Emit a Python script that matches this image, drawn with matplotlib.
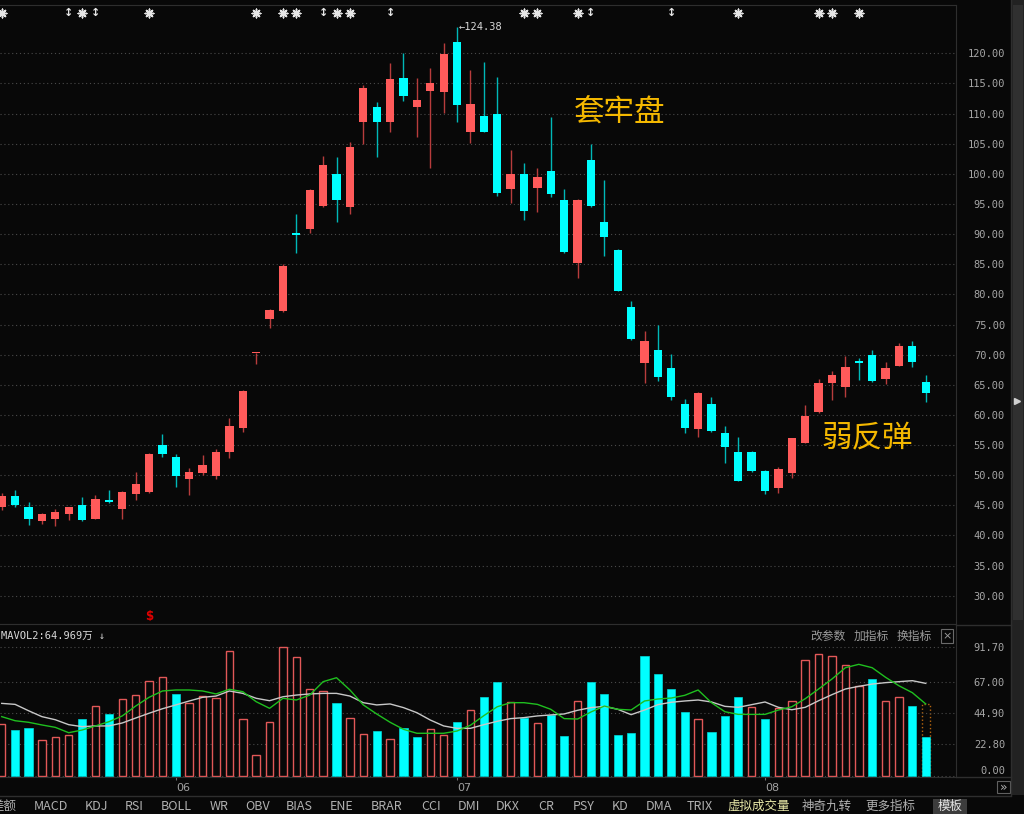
import numpy as np
import matplotlib.pyplot as plt
from matplotlib.patches import Rectangle
from matplotlib.lines import Line2D

plt.rcParams['font.family'] = ['Noto Sans CJK SC', 'DejaVu Sans']

# daily candles (price)
opens = [44.67, 46.55, 44.77, 42.45, 42.73, 43.56, 45.10, 42.73, 45.65, 44.33,
         46.88, 47.16, 55.00, 52.97, 49.37, 50.31, 49.86, 53.79, 57.88, 70.20,
         75.87, 77.24, 89.95, 90.80, 94.72, 100.03, 94.45, 108.55, 111.14, 108.55,
         115.90, 111.09, 113.80, 113.63, 121.93, 106.99, 109.60, 109.93, 97.43, 100.03,
         97.70, 100.47, 95.66, 85.26, 102.24, 91.96, 87.36, 77.86, 68.61, 70.77,
         67.73, 61.76, 57.61, 61.76, 56.95, 53.90, 53.90, 50.75, 47.82, 50.42,
         55.39, 60.43, 65.35, 64.68, 68.85, 69.94, 65.96, 68.17, 71.49, 65.41]
highs = [47.00, 47.55, 45.60, 43.78, 44.33, 44.80, 46.43, 46.71, 47.55, 47.40,
         50.48, 53.60, 56.78, 53.51, 51.24, 53.35, 54.34, 59.44, 64.10, 70.22,
         77.50, 85.00, 93.29, 97.50, 102.96, 102.74, 105.23, 114.74, 111.87, 118.34,
         120.00, 115.85, 117.51, 121.76, 124.38, 117.23, 118.61, 116.02, 103.96, 101.75,
         101.02, 109.48, 97.48, 95.75, 104.95, 98.98, 87.50, 78.90, 73.92, 74.92,
         70.11, 62.64, 63.80, 62.92, 58.16, 56.28, 54.00, 50.90, 51.41, 56.20,
         61.65, 65.91, 67.29, 69.83, 69.40, 70.77, 68.73, 71.88, 72.32, 66.63]
lows = [44.30, 44.77, 41.73, 41.90, 41.62, 42.57, 42.40, 42.73, 45.33, 42.73,
        45.88, 47.00, 53.07, 48.09, 46.71, 50.00, 49.37, 52.90, 57.12, 68.45,
        74.47, 77.10, 86.82, 90.13, 94.55, 92.06, 93.33, 104.95, 102.74, 106.99,
        112.09, 106.06, 101.02, 110.04, 108.55, 105.07, 106.90, 96.32, 95.21, 92.34,
        93.72, 96.21, 86.90, 82.67, 94.45, 86.37, 80.50, 72.40, 65.35, 65.63,
        62.48, 56.95, 56.39, 57.20, 52.07, 49.00, 50.50, 46.88, 47.10, 49.59,
        55.30, 60.30, 62.48, 62.92, 65.79, 65.50, 65.13, 68.10, 68.00, 62.20]
closes = [46.55, 45.10, 42.73, 43.56, 43.89, 44.67, 42.57, 46.05, 45.60, 47.27,
          48.54, 53.46, 53.51, 49.86, 50.58, 51.69, 53.90, 58.16, 63.97, 70.22,
          77.36, 84.76, 89.90, 97.32, 101.47, 95.66, 104.45, 114.19, 108.55, 115.74,
          112.97, 112.20, 115.02, 119.88, 111.42, 111.54, 106.99, 96.77, 100.03, 93.78,
          99.53, 96.65, 86.98, 95.66, 94.66, 89.57, 80.56, 72.55, 72.32, 66.34,
          63.02, 57.88, 63.69, 57.33, 54.63, 49.09, 50.75, 47.38, 51.03, 56.12,
          59.87, 65.35, 66.63, 67.90, 68.65, 65.63, 67.73, 71.43, 68.83, 63.58]

# volume (万) and its two moving-average lines
volumes = [36.9, 32.4, 34.3, 25.3, 27.4, 28.8, 40.4, 49.6, 43.7, 54.4,
           57.7, 67.1, 70.4, 57.9, 51.5, 56.5, 55.1, 88.7, 40.2, 14.7,
           38.1, 91.3, 84.6, 61.7, 60.5, 51.8, 40.9, 29.6, 31.7, 26.2,
           33.8, 27.7, 33.5, 28.8, 38.3, 47.0, 55.8, 66.7, 52.5, 41.1,
           37.3, 43.5, 28.4, 53.2, 66.7, 57.9, 28.8, 30.3, 84.9, 72.1,
           61.9, 45.2, 40.2, 31.0, 42.6, 55.8, 48.7, 40.4, 48.5, 53.2,
           82.0, 86.8, 84.9, 78.7, 64.1, 68.6, 53.2, 55.8, 49.9, 27.7]
vol_ma5 = [42.1, 39.2, 38.1, 36.2, 34.5, 30.7, 32.6, 35.5, 38.5, 42.6,
           49.6, 55.8, 60.3, 61.0, 61.0, 60.3, 58.2, 61.5, 59.8, 52.7,
           48.0, 55.1, 53.9, 57.4, 66.9, 69.7, 61.0, 50.4, 44.0, 38.1,
           33.1, 30.3, 30.3, 30.3, 31.9, 36.0, 42.8, 49.1, 52.0, 52.0,
           50.8, 47.3, 40.7, 40.4, 45.4, 49.6, 47.3, 46.8, 53.2, 54.6,
           55.3, 57.2, 61.0, 52.0, 45.6, 43.7, 43.7, 43.7, 46.8, 49.1,
           54.8, 61.7, 68.8, 76.8, 79.2, 76.8, 70.0, 64.0, 59.1, 51.1]
vol_ma10 = [51.5, 50.8, 46.3, 42.1, 39.9, 36.4, 35.0, 35.5, 35.5, 37.6,
            41.1, 44.5, 47.7, 50.4, 53.2, 55.8, 56.7, 60.3, 58.6, 55.1,
            53.4, 56.2, 57.4, 58.2, 58.6, 58.6, 56.7, 52.0, 50.4, 51.1,
            48.5, 44.9, 39.7, 35.5, 33.8, 33.8, 36.4, 38.8, 40.7, 41.4,
            42.6, 43.3, 44.0, 46.6, 48.5, 49.4, 47.3, 43.5, 46.8, 50.6,
            52.3, 53.2, 53.9, 52.5, 49.4, 48.7, 50.6, 52.5, 48.7, 47.0,
            48.7, 53.4, 57.7, 61.7, 63.6, 65.2, 66.2, 66.9, 67.6, 65.7]
virtual_vol = 50.8

star_idx = [0, 6, 11, 19, 21, 22, 25, 26, 39, 40, 43, 55, 61, 62, 64]
arrow_idx = [5, 7, 24, 29, 44, 50]
price_ticks = np.arange(30, 121, 5)
vol_ticks = [0, 22.8, 44.9, 67.0, 91.7]
month_idx = [13, 34, 57]
month_labels = ['06', '07', '08']
toolbar = [('差额', 17, 'r'), ('MACD', 51, 'c'), ('KDJ', 96, 'c'), ('RSI', 134, 'c'),
           ('BOLL', 176, 'c'), ('WR', 219, 'c'), ('OBV', 258, 'c'), ('BIAS', 299, 'c'),
           ('ENE', 342, 'c'), ('BRAR', 387, 'c'), ('CCI', 431, 'c'), ('DMI', 469, 'c'),
           ('DKX', 508, 'c'), ('CR', 546, 'c'), ('PSY', 584, 'c'), ('KD', 620, 'c'),
           ('DMA', 659, 'c'), ('TRIX', 700, 'c'), ('虚拟成交量', 759, 'c'),
           ('神奇九转', 827, 'c'), ('更多指标', 890, 'c')]

BG = '#080808'
RED, RED_WICK = '#ff5a5a', '#b83c3c'
CYAN, CYAN_WICK = '#00ffff', '#00b8b8'
LINE = '#2e2e2e'
W, H = 1024, 814

fig = plt.figure(figsize=(W / 100, H / 100), dpi=100, facecolor=BG)


def box(l, t, r, b):
    return [l / W, 1 - b / H, (r - l) / W, (b - t) / H]


def fx(x):
    return x / W


def fy(y):
    return 1 - y / H


ax = fig.add_axes(box(0, 5, 956, 624), facecolor=BG)
axv = fig.add_axes(box(0, 624, 956, 777), facecolor=BG, sharex=ax)

o, h, l, c = map(np.array, (opens, highs, lows, closes))
x = np.arange(len(c))

# candles
up = c >= o
ax.vlines(x, l, h, colors=np.where(up, RED_WICK, CYAN_WICK), lw=1, zorder=2)
ax.bar(x, np.maximum(np.abs(c - o), 0.22), bottom=np.minimum(o, c), width=0.62,
       color=np.where(up, RED, CYAN), lw=0, zorder=3)

ax.set_xlim(-0.13, 71.26)
ax.set_ylim(25.31, 128.01)
ax.yaxis.tick_right()
ax.tick_params(axis='y', length=0, pad=35.3, labelsize=7.5, labelcolor='#a6a6a6')
ax.set_yticks(price_ticks, [f'{v:.2f}' for v in price_ticks], ha='right',
              family='DejaVu Sans Mono')
ax.tick_params(axis='x', bottom=False, labelbottom=False)
ax.grid(axis='y', color='#4a4a4a', ls=(0, (1, 2.5)), lw=0.8)
for s in ax.spines.values():
    s.set_color(LINE)
ax.spines['left'].set_visible(False)

# signal markers along the top
ax.scatter(star_idx, [0.987] * len(star_idx), transform=ax.get_xaxis_transform(),
           marker=(8, 2, 0), s=38, color='#e6e6e6', lw=1.1, zorder=4)
for i in arrow_idx:
    ax.text(i, 0.987, '↕', transform=ax.get_xaxis_transform(), ha='center', va='center',
            fontsize=8, fontweight='bold', color='#e6e6e6', family='DejaVu Sans')

ax.text(34.13, 124.36, '←124.38', ha='left', va='center', fontsize=7.5,
        color='#d8d8d8', family='DejaVu Sans Mono')
ax.text(46.15, 110.2, '套牢盘', ha='center', va='center', fontsize=22, color='#f4b800')
ax.text(64.6, 56.0, '弱反弹', ha='center', va='center', fontsize=22, color='#f4b800')
ax.text(11, 26.5, '$', ha='center', va='center', fontsize=8.5, fontweight='bold',
        color='#e00000', family='DejaVu Sans')

# volume pane
v = np.array(volumes)
vol_up = np.r_[True, np.diff(c) >= 0]
axv.bar(69, virtual_vol, width=0.62, fill=False, edgecolor='#b8660e', ls=':', lw=1, zorder=1)
axv.bar(x[vol_up], v[vol_up], width=0.56, facecolor=BG, edgecolor='#e25858', lw=1, zorder=2)
axv.bar(x[~vol_up], v[~vol_up], width=0.62, color=CYAN, edgecolor='#00d8d8', lw=0.5, zorder=2)
axv.plot(x, vol_ma10, color='#c8c8c8', lw=1, zorder=3)
axv.plot(x, vol_ma5, color='#1fbf1f', lw=1, zorder=4)

axv.set_ylim(-0.71, 107.8)
axv.yaxis.tick_right()
axv.tick_params(axis='y', length=0, pad=35.3, labelsize=7.5, labelcolor='#a6a6a6')
axv.set_yticks(vol_ticks, [f'{t:.2f}' for t in vol_ticks], ha='right',
               family='DejaVu Sans Mono')
axv.yaxis.get_major_ticks()[0].label2.set_va('bottom')
axv.grid(axis='y', color='#4a4a4a', ls=(0, (1, 2.5)), lw=0.8)
axv.set_xticks(month_idx, month_labels, ha='left', family='DejaVu Sans')
axv.tick_params(axis='x', direction='out', length=2.5, width=0.8, color='#707070',
                labelcolor='#a0a0a0', labelsize=8, pad=2)
for s in axv.spines.values():
    s.set_color(LINE)
axv.spines['left'].set_visible(False)

fig.text(fx(1), fy(636), 'MAVOL2:64.969万 ↓', fontsize=7.5, color='#d8d8d8', va='center',
         family=['DejaVu Sans Mono', 'Noto Sans CJK SC'])
for lbl, px in [('改参数', 828), ('加指标', 871), ('换指标', 914)]:
    fig.text(fx(px), fy(636), lbl, fontsize=8.5, color='#9a9a9a', ha='center', va='center')
fig.add_artist(Rectangle((fx(941), fy(643)), 12 / W, 14 / H, transform=fig.transFigure,
                         fill=False, edgecolor='#6a6a6a', lw=0.8))
fig.text(fx(947), fy(636), '×', fontsize=8, color='#9a9a9a', ha='center', va='center',
         family='DejaVu Sans')

# frame lines, scrollbar, bottom toolbar
for xs, ys in [([956, 1011], [624.5, 624.5]), ([956, 1011], [777, 777]),
               ([0, 1011], [795.5, 795.5]), ([1011, 1011], [0, 795])]:
    fig.add_artist(Line2D([fx(a) for a in xs], [fy(b) for b in ys], color=LINE, lw=1))
fig.add_artist(Rectangle((fx(1012), fy(795)), 12 / W, 795 / H, transform=fig.transFigure,
                         facecolor='#222222', edgecolor='none'))
fig.add_artist(Rectangle((fx(1013), fy(620)), 10 / W, 615 / H, transform=fig.transFigure,
                         facecolor='#303030', edgecolor='none'))
fig.add_artist(Line2D([fx(1017)], [fy(401)], marker='>', color='#d0d0d0', ms=4,
                      transform=fig.transFigure))
fig.add_artist(Rectangle((fx(997), fy(793)), 13 / W, 12 / H, transform=fig.transFigure,
                         fill=False, edgecolor='#606060', lw=0.8))
fig.text(fx(1003.5), fy(787), '»', fontsize=9, color='#b0b0b0', ha='center', va='center',
         family='DejaVu Sans')

for lbl, px, al in toolbar:
    fig.text(fx(px), fy(806), lbl, fontsize=9, va='center',
             ha='right' if al == 'r' else 'center',
             color='#e8e8a8' if lbl == '虚拟成交量' else '#b0b0b0')
fig.add_artist(Rectangle((fx(933), fy(814)), 34 / W, 15 / H, transform=fig.transFigure,
                         facecolor='#3c3c3c', edgecolor='none'))
fig.text(fx(950), fy(806), '模板', fontsize=9, color='#e4e4e4', ha='center', va='center')

fig.savefig('out.png', dpi=100, facecolor=BG)
